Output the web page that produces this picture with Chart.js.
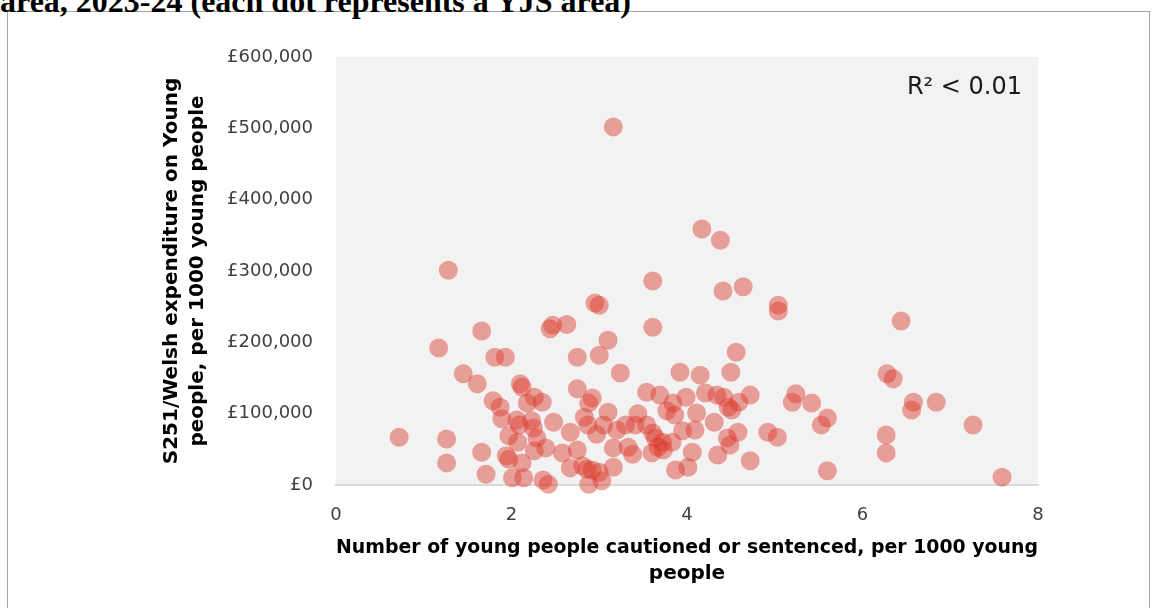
<!DOCTYPE html>
<html>
<head>
<meta charset="utf-8">
<script src="https://cdn.jsdelivr.net/npm/chart.js@4.4.1/dist/chart.umd.min.js"></script>
<style>
  html, body { margin: 0; padding: 0; background: #fff; width: 1152px; height: 608px; overflow: hidden; }
  #heading { position: absolute; left: 0; top: -17px; line-height: 32px; font: bold 32px "Liberation Serif", "DejaVu Serif", serif; color: #000; white-space: nowrap; }
  #frame { position: absolute; left: 7px; top: 11px; width: 1143px; height: 640px; border: 1px solid #a6a6a6; box-sizing: border-box; }
  #wrap { position: absolute; left: 0; top: 0; width: 1152px; height: 608px; }
</style>
</head>
<body>
<div id="frame"></div>
<div id="heading">area, 2023-24 (each dot represents a YJS area)</div>
<div id="wrap"><canvas id="chart" width="1152" height="608"></canvas></div>
<script>
// Young people cautioned or sentenced per 1000 young people (one value per YJS area)
const cautionedPer1000 = [
  0.72, 1.26, 1.26, 1.28, 1.17, 1.45, 1.61, 1.66, 1.66, 1.71,
  1.81, 1.79, 1.93, 1.87, 1.89, 1.97, 1.94, 1.97, 2.01, 2.06,
  2.09, 2.10, 2.12, 2.18, 2.26, 2.35, 2.07, 2.23, 2.25, 2.29,
  2.12, 2.26, 2.14, 2.36, 2.42, 2.39, 2.44, 2.47, 2.48, 2.58,
  2.63, 2.67, 2.67, 2.75, 2.75, 2.75, 2.81, 2.86, 2.83, 2.87,
  2.92, 2.88, 2.95, 3.00, 3.00, 2.92, 2.88, 2.97, 3.03, 3.00,
  3.05, 3.10, 3.10, 3.24, 3.16, 3.16, 3.20, 3.30, 3.44, 3.41,
  3.54, 3.33, 3.38, 3.54, 3.61, 3.61, 3.61, 3.60, 3.69, 3.64,
  3.72, 3.67, 3.73, 3.84, 3.77, 3.86, 3.83, 3.92, 3.99, 3.87,
  3.95, 4.01, 4.09, 4.06, 4.11, 4.15, 4.17, 4.21, 4.34, 4.42,
  4.31, 4.35, 4.38, 4.41, 4.50, 4.56, 4.59, 4.47, 4.51, 4.58,
  4.46, 4.49, 4.64, 4.72, 4.72, 4.92, 5.03, 5.04, 5.04, 5.24,
  5.20, 5.42, 5.60, 5.53, 5.60, 6.28, 6.35, 6.44, 6.58, 6.56,
  6.84, 7.26, 6.27, 6.27, 7.59, 3.16
];

// S251/Welsh expenditure on young people per 1000 young people (£), same order
const spendPer1000 = [
   67000,  64500,  31000, 301000, 192000, 156000, 142000, 216000,  46000,  15000,
  179000, 118000, 179000, 109000,  93000,  69000,  41000,  36000,  10000,  91000,
   84000, 142000, 137000, 115000, 123000, 116000,  60000,  90000,  80000,  66000,
   31000,  48000,  10000,   7000,   1000,  52000, 219000, 224000,  88000,  45000,
  225000,  74000,  24000, 179000, 135000,  49000,  27000,  22000,  95000,  84000,
  122000, 115000, 255000, 252000, 182000,  21000,   1000,  71000,   6000,  18000,
   84000, 203000, 102000, 157000,  52000,  25000,  77000,  84000, 100000,  84000,
   84000,  53000,  43000, 130000, 286000, 221000,  73000,  45000, 126000,  66000,
   60000,  53000,  49000, 115000, 104000,  98000,  60000, 158000, 123000,  21000,
   76000,  25000,  77000,  46000, 101000, 154000, 359000, 129000, 126000, 123000,
   88000,  42000, 343000, 272000, 158000, 186000, 116000, 109000, 105000,  74000,
   66000,  56000, 278000, 126000,  34000,  74000,  67000, 252000, 244000, 128000,
  116000, 115000,  94000,  84000,  20000, 156000, 149000, 230000, 116000, 105000,
  116000,  84000,  70000,  45000,  11000, 502000
];

const xTickValues = [0, 2, 4, 6, 8];
const yTickValues = [0, 100000, 200000, 300000, 400000, 500000, 600000];
const xAxisTitle = ['Number of young people cautioned or sentenced, per 1000 young', 'people'];
const yAxisTitle = ['S251/Welsh expenditure on Young', 'people, per 1000 young people'];
const fitNote = 'R\u00B2 < 0.01';

const points = cautionedPer1000.map((x, i) => ({ x, y: spendPer1000[i] }));

// Where the grey plot panel sits on the page
const PLOT_BOX = { left: 336, top: 57, right: 1038, bottom: 485 };
const Y_TITLE_LEFT = 159;

const plotBackground = {
  id: 'plotBackground',
  beforeDraw(chart) {
    const { ctx, chartArea: { left, top, width, height } } = chart;
    ctx.save();
    ctx.fillStyle = '#f2f2f2';
    ctx.fillRect(left, top, width, height);
    ctx.restore();
  }
};

const fitNoteLabel = {
  id: 'fitNoteLabel',
  afterDatasetsDraw(chart) {
    const { ctx, chartArea } = chart;
    ctx.save();
    ctx.font = '24px "DejaVu Sans", sans-serif';
    ctx.fillStyle = '#1a1a1a';
    ctx.textAlign = 'right';
    ctx.textBaseline = 'middle';
    ctx.fillText(fitNote, chartArea.right - 16, chartArea.top + 31);
    ctx.restore();
  }
};

const tickFont = { family: '"DejaVu Sans", sans-serif', size: 18 };
const titleFont = { family: '"DejaVu Sans", sans-serif', size: 20, weight: 'bold', lineHeight: 26 / 20 };

const chart = new Chart(document.getElementById('chart'), {
  type: 'scatter',
  data: {
    datasets: [{
      data: points,
      backgroundColor: 'rgba(220, 55, 42, 0.45)',
      borderWidth: 0,
      pointRadius: 9.5,
      pointHoverRadius: 9.5,
      clip: false
    }]
  },
  options: {
    responsive: false,
    animation: false,
    devicePixelRatio: 1,
    layout: { padding: { left: Y_TITLE_LEFT, top: 46, right: 108, bottom: 21 } },
    plugins: { legend: { display: false }, tooltip: { enabled: false } },
    scales: {
      x: {
        type: 'linear',
        min: 0,
        max: 8,
        afterBuildTicks(scale) { scale.ticks = xTickValues.map(v => ({ value: v })); },
        afterFit(scale) { scale.height = 102; },
        grid: { display: false, drawTicks: false },
        border: { display: true, color: '#d9d9d9', width: 2 },
        ticks: { font: tickFont, color: '#404040', padding: 20, maxRotation: 0 },
        title: { display: true, text: xAxisTitle, font: titleFont, color: '#000', padding: { top: 0, bottom: 0 } }
      },
      y: {
        type: 'linear',
        min: 0,
        max: 600000,
        afterBuildTicks(scale) { scale.ticks = yTickValues.map(v => ({ value: v })); },
        afterFit(scale) { scale.width = PLOT_BOX.left - Y_TITLE_LEFT; },
        grid: { display: false, drawTicks: false },
        border: { display: false },
        ticks: {
          font: tickFont,
          color: '#404040',
          padding: 23,
          callback: v => '\u00A3' + Number(v).toLocaleString('en-GB')
        },
        title: { display: true, text: yAxisTitle, font: titleFont, color: '#000', padding: { top: 0, bottom: 0 } }
      }
    }
  },
  plugins: [plotBackground, fitNoteLabel]
});

// Nudge the outer padding so the plot panel lands on PLOT_BOX
for (let i = 0; i < 2; i++) {
  const a = chart.chartArea;
  const p = chart.options.layout.padding;
  p.left += PLOT_BOX.left - a.left;
  p.top += PLOT_BOX.top - a.top;
  p.right += a.right - PLOT_BOX.right;
  p.bottom += a.bottom - PLOT_BOX.bottom;
  chart.update('none');
}
</script>
</body>
</html>
